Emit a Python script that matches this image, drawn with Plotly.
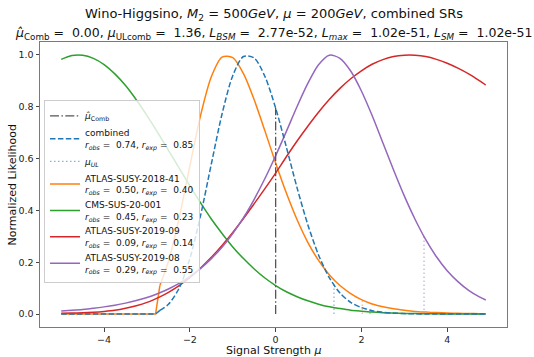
import numpy as np
import plotly.graph_objects as go

# ---------------- data ----------------
mu = [-5, -4.75, -4.5, -4.25, -4, -3.75, -3.5, -3.25, -3, -2.8, -2.7, -2.5, -2.25, -2,
      -1.75, -1.5, -1.25, -1, -0.75, -0.5, -0.25, 0, 0.25, 0.5, 0.75, 1, 1.25, 1.5,
      1.75, 2, 2.25, 2.5, 2.75, 3, 3.25, 3.5, 3.75, 4, 4.25, 4.5, 4.75, 4.9]

L_atlas_2018_41 = [0, 0, 0, 0, 0, 0, 0, 0, 0, 0, 0.11, 0.204, 0.371, 0.572, 0.767, 0.916,
                   0.992, 0.990, 0.928, 0.827, 0.707, 0.583, 0.467, 0.364, 0.277, 0.207,
                   0.152, 0.110, 0.079, 0.0555, 0.0388, 0.028, 0.020, 0.0145, 0.010, 0.0075,
                   0.0055, 0.004, 0.003, 0.002, 0.0015, 0.0012]
L_cms_20_001 = [0.983, 0.998, 0.999, 0.987, 0.963, 0.927, 0.882, 0.827, 0.766, 0.714, 0.687,
                0.632, 0.563, 0.495, 0.429, 0.367, 0.311, 0.259, 0.214, 0.174, 0.139, 0.110,
                0.086, 0.067, 0.051, 0.038, 0.028, 0.021, 0.015, 0.011, 0.0075, 0.0052,
                0.0036, 0.0025, 0.0017, 0.0011, 0.0007, 0.0005, 0.0003, 0.0002, 0.0001, 0.0001]
L_atlas_2019_09 = [0.003, 0.004, 0.005, 0.007, 0.010, 0.0144, 0.022, 0.032, 0.045, 0.0587,
                   0.0664, 0.084, 0.110, 0.141, 0.178, 0.219, 0.265, 0.315, 0.369, 0.426,
                   0.484, 0.544, 0.607, 0.668, 0.725, 0.779, 0.828, 0.871, 0.908, 0.939,
                   0.964, 0.982, 0.994, 0.999, 0.999, 0.994, 0.983, 0.968, 0.949, 0.927,
                   0.901, 0.884]
L_atlas_2019_08 = [0.0117, 0.0146, 0.018, 0.0224, 0.0277, 0.0342, 0.0422, 0.052, 0.064,
                   0.0756, 0.082, 0.0966, 0.118, 0.1445, 0.176, 0.214, 0.258, 0.311, 0.372,
                   0.443, 0.523, 0.611, 0.705, 0.801, 0.890, 0.962, 0.999, 0.987, 0.938,
                   0.861, 0.766, 0.661, 0.556, 0.456, 0.366, 0.287, 0.221, 0.167, 0.125,
                   0.0914, 0.066, 0.054]
L_combined = [0, 0, 0, 0, 0, 0, 0, 0, 0, 0, 0.014, 0.0375, 0.100, 0.214, 0.381, 0.579, 0.772,
              0.920, 0.994, 0.988, 0.917, 0.795, 0.644, 0.487, 0.345, 0.228, 0.141, 0.081,
              0.045, 0.025, 0.013, 0.007, 0.0035, 0.0017, 0.0008, 0.0004, 0.0002, 0.0001,
              0.0001, 0, 0, 0]

names = ["ATLAS-SUSY-2018-41", "CMS-SUS-20-001", "ATLAS-SUSY-2019-09", "ATLAS-SUSY-2019-08"]
r_obs = [0.50, 0.45, 0.09, 0.29]
r_exp = [0.40, 0.23, 0.14, 0.55]
ul_values = [2.02, 2.2, None, 3.46]
comb_r_obs, comb_r_exp = 0.74, 0.85
mu_hat_comb = 0.00
mu_ul_comb = 1.36

title1 = "Wino-Higgsino, <i>M</i><sub>2</sub> = 500<i>GeV</i>, <i>μ</i> = 200<i>GeV</i>, combined SRs"
title2 = ("<i>μ̂</i><sub>Comb</sub> =  0.00, <i>μ</i><sub>ULcomb</sub> =  1.36, "
          "<i>L<sub>BSM</sub></i> =  2.77e-52, <i>L<sub>max</sub></i> =  1.02e-51, "
          "<i>L<sub>SM</sub></i> =  1.02e-51")

# ---------------- styling ----------------
colors = ["#ff7f0e", "#2ca02c", "#d62728", "#9467bd"]
comb_color = "#1f77b4"
FONT = "DejaVu Sans"

fig = go.Figure()
x = np.array(mu)
series = [L_atlas_2018_41, L_cms_20_001, L_atlas_2019_09, L_atlas_2019_08]

def rtext(ro, re):
    return f"<i>r<sub>obs</sub></i> =  {ro:.2f}, <i>r<sub>exp</sub></i> =  {re:.2f}"

k = mu.index(-2.7)
for i, (name, ys) in enumerate(zip(names, series)):
    ys = np.array(ys)
    label = f"{name}<br>{rtext(r_obs[i], r_exp[i])}"
    if ys[0] == 0:
        fig.add_trace(go.Scatter(x=x[:k + 1], y=ys[:k + 1], mode="lines",
                                 line=dict(color=colors[i], width=1.5),
                                 showlegend=False, hoverinfo="skip"))
        fig.add_trace(go.Scatter(x=x[k:], y=ys[k:], mode="lines", name=label,
                                 line=dict(color=colors[i], width=1.5, shape="spline", smoothing=0.8),
                                 legendrank=10 + i))
    else:
        fig.add_trace(go.Scatter(x=x, y=ys, mode="lines", name=label,
                                 line=dict(color=colors[i], width=1.5, shape="spline", smoothing=0.8),
                                 legendrank=10 + i))

# combined
yc = np.array(L_combined)
fig.add_trace(go.Scatter(x=x[:k + 1], y=yc[:k + 1], mode="lines",
                         line=dict(color=comb_color, width=1.5, dash="5.5px,2.4px"),
                         showlegend=False, hoverinfo="skip"))
fig.add_trace(go.Scatter(x=x[k:], y=yc[k:], mode="lines",
                         name=f"combined<br>{rtext(comb_r_obs, comb_r_exp)}",
                         line=dict(color=comb_color, width=1.5, dash="5.5px,2.4px",
                                   shape="spline", smoothing=0.8),
                         legendrank=2))

# upper limits (dotted)
for i, (u, ys) in enumerate(zip(ul_values, series)):
    if u is None:
        continue
    h = float(np.interp(u, x, ys))
    fig.add_trace(go.Scatter(x=[u, u], y=[0, h], mode="lines", showlegend=False,
                             line=dict(color=colors[i], width=1.2, dash="1.5px,2.5px"),
                             opacity=0.55, hoverinfo="skip"))
hc = float(np.interp(mu_ul_comb, x, yc))
fig.add_trace(go.Scatter(x=[mu_ul_comb, mu_ul_comb], y=[0, hc], mode="lines",
                         name="<i>μ<sub>UL</sub></i>",
                         line=dict(color=comb_color, width=1.2, dash="1.5px,2.5px"),
                         opacity=0.55, legendrank=3))

# mu hat
hh = float(np.interp(mu_hat_comb, x, yc))
fig.add_trace(go.Scatter(x=[mu_hat_comb, mu_hat_comb], y=[0, hh], mode="lines",
                         name="<i>μ̂</i><sub>Comb</sub>",
                         line=dict(color="#555555", width=1.3, dash="9px,2.4px,1.5px,2.4px"),
                         legendrank=1))

axis_common = dict(showline=True, linecolor="#7a7a7a", linewidth=1, mirror=True,
                   ticks="outside", ticklen=3.5, tickcolor="#444", tickwidth=1,
                   showgrid=False, zeroline=False,
                   tickfont=dict(family=FONT, size=9.5, color="#222"))

fig.update_layout(
    width=534, height=357,
    margin=dict(l=40, r=27, t=42, b=27),
    paper_bgcolor="white", plot_bgcolor="white",
    font=dict(family=FONT, color="#111"),
    showlegend=True,
    legend=dict(x=0.0086, y=0.795, xanchor="left", yanchor="top",
                bgcolor="rgba(255,255,255,0.8)", bordercolor="#cccccc", borderwidth=1,
                font=dict(family=FONT, size=9, color="#111"),
                itemwidth=30, tracegroupgap=0),
    xaxis=dict(range=[-5.495, 5.395], tickvals=[-4, -2, 0, 2, 4], ticklabelstandoff=0,
               **axis_common),
    yaxis=dict(range=[-0.05, 1.05], tickvals=[0, 0.2, 0.4, 0.6, 0.8, 1.0],
               tickformat=".1f", **axis_common),
    annotations=[
        dict(text=title1, x=0.5, y=1.097, xref="paper", yref="paper", showarrow=False,
             xanchor="center", yanchor="middle", font=dict(family=FONT, size=13, color="#111")),
        dict(text=title2, x=0.5, y=1.029, xref="paper", yref="paper", showarrow=False,
             xanchor="center", yanchor="middle", font=dict(family=FONT, size=12.5, color="#111")),
        dict(text="Normalized Likelihood", x=-0.058, y=0.5, xref="paper", yref="paper",
             showarrow=False, textangle=-90, xanchor="center", yanchor="middle",
             font=dict(family=FONT, size=11, color="#111")),
        dict(text="Signal Strength <i>μ</i>", x=0.5, y=-0.082, xref="paper", yref="paper",
             showarrow=False, xanchor="center", yanchor="middle",
             font=dict(family=FONT, size=11, color="#111")),
    ],
)

fig.write_html("out.html")
